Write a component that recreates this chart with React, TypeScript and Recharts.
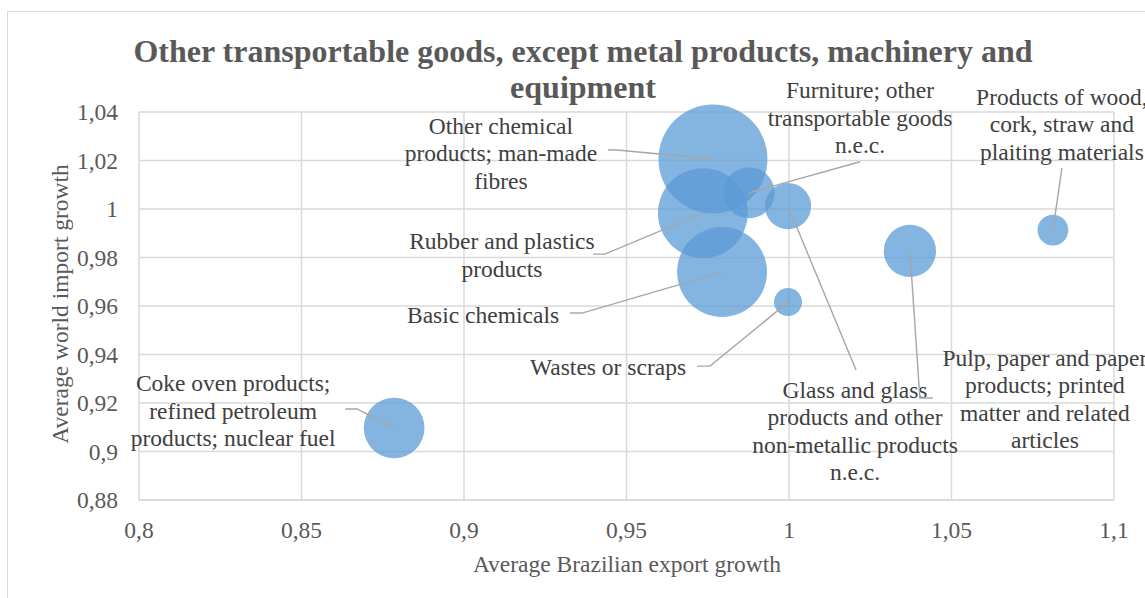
import { ScatterChart, Scatter, XAxis, YAxis, ZAxis, CartesianGrid } from "recharts";

const categories = [
  "Other chemical products; man-made fibres",
  "Rubber and plastics products",
  "Basic chemicals",
  "Furniture; other transportable goods n.e.c.",
  "Glass and glass products and other non-metallic products n.e.c.",
  "Wastes or scraps",
  "Pulp, paper and paper products; printed matter and related articles",
  "Products of wood, cork, straw and plaiting materials",
  "Coke oven products; refined petroleum products; nuclear fuel",
];
const exportGrowth = [0.9766, 0.9735, 0.9794, 0.9877, 0.9997, 0.9997, 1.0372, 1.0812, 0.8785];
const importGrowth = [1.0206, 0.9983, 0.974, 1.0067, 1.0012, 0.9616, 0.9827, 0.9913, 0.9097];
const bubbleSize = [100, 68, 68, 22, 18, 6.6, 23, 8, 31];

const xTicks = [0.8, 0.85, 0.9, 0.95, 1, 1.05, 1.1];
const yTicks = [0.88, 0.9, 0.92, 0.94, 0.96, 0.98, 1, 1.02, 1.04];

const data = categories.map((name, i) => ({
  name,
  x: exportGrowth[i],
  y: importGrowth[i],
  z: bubbleSize[i],
}));

// label text lines, text-block offset and leader path, all relative to bubble centre (px)
const labelLayout: Record<string, { lines: string[]; dx: number; dy: number; path: number[][] }> = {
  [categories[0]]: { lines: ["Other chemical", "products; man-made", "fibres"], dx: -212, dy: -6, path: [[0, 0], [-96, -9], [-105, -9]] },
  [categories[1]]: { lines: ["Rubber and plastics", "products"], dx: -201, dy: 42, path: [[0, 0], [-98, 41], [-110, 41]] },
  [categories[2]]: { lines: ["Basic chemicals"], dx: -239, dy: 43, path: [[0, 0], [-140, 41], [-152, 41]] },
  [categories[3]]: { lines: ["Furniture; other", "transportable goods", "n.e.c."], dx: 111, dy: -75, path: [[0, 0], [111, -31]] },
  [categories[4]]: { lines: ["Glass and glass", "products and other", "non-metallic products", "n.e.c."], dx: 67, dy: 225, path: [[0, 0], [68, 164]] },
  [categories[5]]: { lines: ["Wastes or scraps"], dx: -180, dy: 65, path: [[0, 0], [-78, 64], [-91, 64]] },
  [categories[6]]: { lines: ["Pulp, paper and paper", "products; printed", "matter and related", "articles"], dx: 135, dy: 148, path: [[0, 0], [10, 147], [23, 147]] },
  [categories[7]]: { lines: ["Products of wood,", "cork, straw and", "plaiting materials"], dx: 9, dy: -106, path: [[0, 0], [9, -62]] },
  [categories[8]]: { lines: ["Coke oven products;", "refined petroleum", "products; nuclear fuel"], dx: -161, dy: -17, path: [[0, 0], [-37, -19], [-49, -19]] },
};

const serif = "'Liberation Serif', 'Times New Roman', serif";
const fmt = (v: number) => String(+v.toFixed(2)).replace(".", ",");

const LabelShape = (props: any) => {
  const { cx, cy, payload } = props;
  const l = labelLayout[payload.name];
  if (!l) return null;
  const pts = l.path.map(([px, py]) => `${cx + px},${cy + py}`).join(" ");
  const lh = 27.5;
  return (
    <g>
      <polyline points={pts} fill="none" stroke="#a6a6a6" strokeWidth={1.4} />
      {l.lines.map((t, i) => (
        <text
          key={i}
          x={cx + l.dx}
          y={cy + l.dy + (i - (l.lines.length - 1) / 2) * lh}
          textAnchor="middle"
          dominantBaseline="central"
          fontFamily={serif}
          fontSize={23.5}
          fill="#404040"
        >
          {t}
        </text>
      ))}
    </g>
  );
};

export default function App() {
  return (
    <div style={{ position: "absolute", left: 0, top: 0, width: 1145, height: 598, overflow: "hidden", background: "#fff" }}>
      <div style={{ position: "absolute", left: 7, top: 11, width: 1200, height: 700, border: "1.5px solid #d9d9d9" }} />
      <ScatterChart width={1145} height={598} margin={{ top: 112, right: 31, bottom: 0, left: 0 }}>
        <CartesianGrid stroke="#d9d9d9" strokeWidth={1.5} />
        <XAxis
          type="number"
          dataKey="x"
          domain={[0.8, 1.1]}
          ticks={xTicks}
          tickFormatter={fmt}
          height={98}
          tickSize={0}
          tickMargin={21}
          axisLine={{ stroke: "#d9d9d9", strokeWidth: 1.5 }}
          tick={{ fill: "#595959", fontSize: 23.5, fontFamily: serif }}
        />
        <YAxis
          type="number"
          dataKey="y"
          domain={[0.88, 1.04]}
          ticks={yTicks}
          tickFormatter={fmt}
          width={139}
          tickSize={0}
          tickMargin={21}
          axisLine={false}
          tick={{ fill: "#595959", fontSize: 23.5, fontFamily: serif }}
        />
        <ZAxis type="number" dataKey="z" domain={[0, 100]} range={[0, 9331]} />
        <Scatter data={data} fill="#5B9BD5" fillOpacity={0.75} isAnimationActive={false} />
        <Scatter data={data} shape={LabelShape} isAnimationActive={false} />
      </ScatterChart>
      <div
        style={{
          position: "absolute",
          left: 83,
          width: 1000,
          top: 33,
          textAlign: "center",
          fontFamily: serif,
          fontWeight: "bold",
          fontSize: 32,
          lineHeight: "36px",
          color: "#595959",
        }}
      >
        Other transportable goods, except metal products, machinery and
        <br />
        equipment
      </div>
      <div
        style={{
          position: "absolute",
          left: 327,
          width: 600,
          top: 550,
          textAlign: "center",
          fontFamily: serif,
          fontSize: 23.5,
          lineHeight: "28px",
          color: "#595959",
        }}
      >
        Average Brazilian export growth
      </div>
      <div
        style={{
          position: "absolute",
          left: 60 - 200,
          top: 304 - 14,
          width: 400,
          textAlign: "center",
          transform: "rotate(-90deg)",
          fontFamily: serif,
          fontSize: 23.5,
          lineHeight: "28px",
          color: "#595959",
        }}
      >
        Average world import growth
      </div>
    </div>
  );
}
